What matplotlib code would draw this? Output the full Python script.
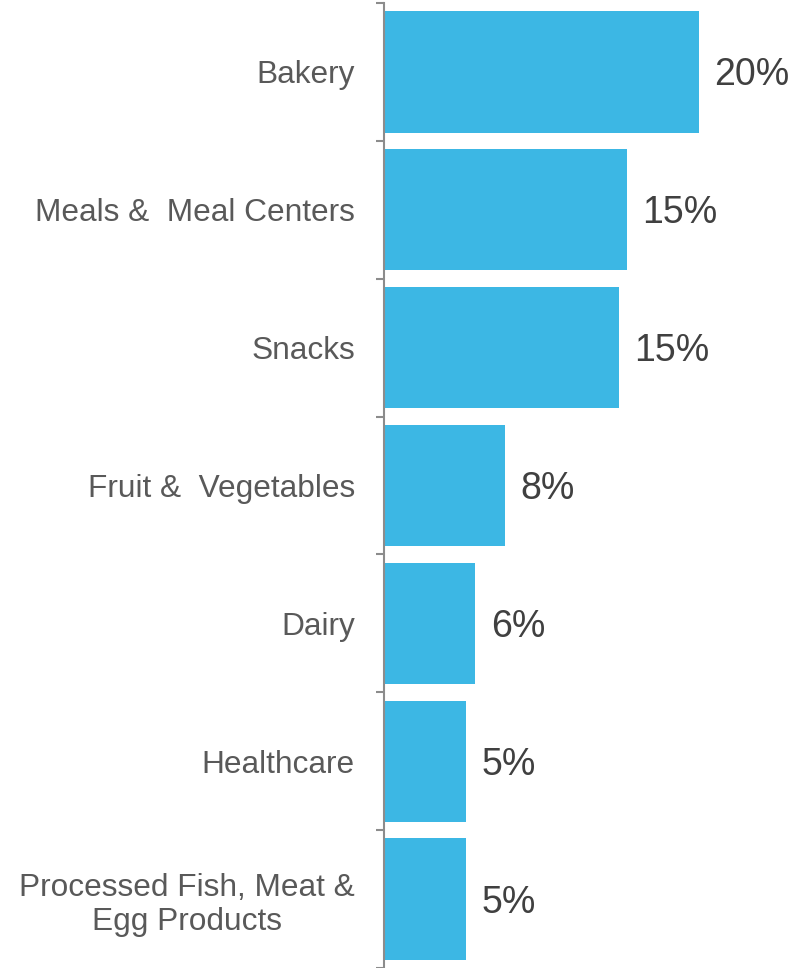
import matplotlib.pyplot as plt
import numpy as np

plt.rcParams['font.family'] = ['Liberation Sans', 'DejaVu Sans']

categories = ['Bakery', 'Meals &  Meal Centers', 'Snacks', 'Fruit &  Vegetables',
              'Dairy', 'Healthcare', 'Processed Fish, Meat &\nEgg Products']
shares = [20.0, 15.4, 14.9, 7.7, 5.8, 5.2, 5.2]

bar_color = '#3cb7e4'
axis_color = '#8c8c8c'

fig = plt.figure(figsize=(8.01, 9.68), dpi=100)
ax = fig.add_axes([384 / 801, 0.0, 417 / 801, 965 / 968])

y = np.arange(len(categories))
bars = ax.barh(y, shares, height=0.88, color=bar_color)

for b, v in zip(bars, shares):
    ax.annotate(f'{v:.0f}%', (b.get_width(), b.get_y() + b.get_height() / 2),
                xytext=(11, -2.5), textcoords='offset points', va='center', ha='left',
                fontsize=27, color='#404040')

ax.set_xlim(0, 20 * 417 / 315)
ax.set_ylim(len(categories) - 0.5, -0.5)

ax.set_yticks(y)
ax.set_yticklabels(categories, fontsize=22.8, color='#595959', linespacing=1.2,
                   multialignment='center')
ax.tick_params(axis='y', which='major', length=0, pad=21)
ax.set_yticks(np.arange(len(categories) + 1) - 0.5, minor=True)
ax.tick_params(axis='y', which='minor', length=6, width=1.5, color=axis_color)
ax.set_xticks([])

for side in ['top', 'right', 'bottom']:
    ax.spines[side].set_visible(False)
ax.spines['left'].set_color(axis_color)
ax.spines['left'].set_linewidth(1.5)

fig.savefig('out.png', dpi=100)
